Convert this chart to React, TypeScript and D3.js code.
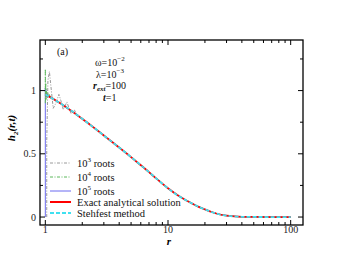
import React from "react";
import * as d3 from "d3";

const rExact = [1, 1.2, 1.5, 2, 2.5, 3, 4, 5, 6, 7, 8, 10, 12, 14, 16, 18, 20, 23, 26, 30, 35, 40, 50, 70, 100];
const hExact = [0.97, 0.925, 0.865, 0.777, 0.705, 0.645, 0.55, 0.474, 0.41, 0.355, 0.306, 0.227, 0.172, 0.133, 0.103, 0.078, 0.06, 0.038, 0.022, 0.011, 0.005, 0.002, 0.0005, 0, 0];

const r1e3 = [1.027, 1.027, 1.05, 1.08, 1.12, 1.16, 1.22, 1.29, 1.34, 1.4, 1.45, 1.5, 1.56, 1.62, 1.68, 1.73, 1.8, 1.9, 2.0];
const h1e3 = [0, 0.6, 1.08, 1.15, 1.0, 0.86, 0.9, 0.97, 0.92, 0.85, 0.88, 0.91, 0.86, 0.82, 0.84, 0.845, 0.81, 0.795, 0.777];

const r1e4 = [1.0, 1.0, 1.004, 1.008, 1.014, 1.02, 1.03, 1.045, 1.06, 1.08, 1.1, 1.14, 1.2];
const h1e4 = [0.9, 1.17, 0.92, 1.06, 0.93, 1.01, 0.94, 0.99, 0.95, 0.97, 0.945, 0.94, 0.925];

const r1e5 = [1.0, 1.0, 1.006, 1.012, 1.02, 1.035, 1.06, 1.1, 1.2];
const h1e5 = [0, 1.02, 0.95, 1.0, 0.96, 0.975, 0.955, 0.945, 0.925];

const xMajor = [1, 10, 100];
const xMinor = [2, 3, 4, 5, 6, 7, 8, 9, 20, 30, 40, 50, 60, 70, 80, 90];
const yMajor = [0, 0.5, 1];
const yMinor = [0.25, 0.75, 1.25];

const L = 40, R = 303, T = 40, B = 225;
const x = d3.scaleLog().domain([0.905, 126]).range([L, R]);
const y = d3.scaleLinear().domain([-0.063, 1.4]).range([B, T]);

function pts(rs: number[], hs: number[]): [number, number][] {
  return rs.map((r, i) => [x(r), y(hs[i])]);
}

export default function App() {
  const smooth = d3.line().curve(d3.curveMonotoneX);
  const lin = d3.line().curve(d3.curveLinear);
  const exactPts = pts(rExact, hExact);
  const exactPath = smooth(exactPts) as string;
  const tail = (startR: number) => exactPts.filter((_, i) => rExact[i] > startR);
  const p3 = lin([...pts(r1e3, h1e3), ...tail(2.0)]) as string;
  const p4 = lin([...pts(r1e4, h1e4), ...tail(1.2)]) as string;
  const p5 = lin([...pts(r1e5, h1e5), ...tail(1.2)]) as string;
  const font = "'Liberation Serif', 'DejaVu Serif', serif";
  const legend = [
    { label: "10", sup: "3", rest: " roots", color: "#9a9a9a", dash: "3,1.5,1,1.5", w: 1, y: 163 },
    { label: "10", sup: "4", rest: " roots", color: "#5cb85c", dash: "3,1.5,1,1.5", w: 1, y: 177 },
    { label: "10", sup: "5", rest: " roots", color: "#6b6bf0", dash: "", w: 1, y: 191 },
    { label: "Exact analytical solution", sup: "", rest: "", color: "#ff0000", dash: "", w: 2, y: 202 },
    { label: "Stehfest method", sup: "", rest: "", color: "#3fe0f0", dash: "4,2", w: 2, y: 213 },
  ];
  return (
    <svg width={341} height={263} style={{ position: "absolute", left: 0, top: 0 }} fontFamily={font}>
      <rect x={0} y={0} width={341} height={263} fill="#fff" />
      <defs>
        <clipPath id="pc"><rect x={L} y={T} width={R - L} height={B - T} /></clipPath>
      </defs>
      <g clipPath="url(#pc)" fill="none">
        <path d={p5} stroke="#6b6bf0" strokeWidth={1} />
        <path d={p4} stroke="#5cb85c" strokeWidth={1} strokeDasharray="3,1.5,1,1.5" />
        <path d={p3} stroke="#9a9a9a" strokeWidth={1} strokeDasharray="3,1.5,1,1.5" />
        <path d={exactPath} stroke="#ff0000" strokeWidth={1.8} />
        <path d={exactPath} stroke="#3fe0f0" strokeWidth={1.8} strokeDasharray="4,2" />
      </g>
      <g stroke="#000" strokeWidth={1}>
        {xMajor.map((v) => (
          <g key={"xm" + v}>
            <line x1={x(v)} x2={x(v)} y1={B} y2={B - 5} />
            <line x1={x(v)} x2={x(v)} y1={T} y2={T + 5} />
          </g>
        ))}
        {xMinor.map((v) => (
          <g key={"xn" + v}>
            <line x1={x(v)} x2={x(v)} y1={B} y2={B - 3} />
            <line x1={x(v)} x2={x(v)} y1={T} y2={T + 3} />
          </g>
        ))}
        {yMajor.map((v) => (
          <g key={"ym" + v}>
            <line x1={L} x2={L + 5} y1={y(v)} y2={y(v)} />
            <line x1={R} x2={R - 5} y1={y(v)} y2={y(v)} />
          </g>
        ))}
        {yMinor.map((v) => (
          <g key={"yn" + v}>
            <line x1={L} x2={L + 3} y1={y(v)} y2={y(v)} />
            <line x1={R} x2={R - 3} y1={y(v)} y2={y(v)} />
          </g>
        ))}
      </g>
      <rect x={L} y={T} width={R - L} height={B - T} fill="none" stroke="#000" strokeWidth={1.3} />
      <g fontSize={10} fill="#222">
        {xMajor.map((v) => (
          <text key={"xl" + v} x={x(v)} y={233} textAnchor="middle">{v}</text>
        ))}
        {yMajor.map((v) => (
          <text key={"yl" + v} x={36} y={y(v) + 3.5} textAnchor="end">{v}</text>
        ))}
      </g>
      <text x={169} y={245} fontSize={11} fontStyle="italic" fontWeight="bold" textAnchor="middle">r</text>
      <text transform="translate(15,128) rotate(-90)" fontSize={11} fontStyle="italic" fontWeight="bold" textAnchor="middle">
        h<tspan fontSize={7} dy={3}>2</tspan><tspan dy={-3}>(r,t)</tspan>
      </text>
      <g fontSize={10} fill="#111">
        <text x={57} y={55}>(a)</text>
        <text x={95} y={66}>ω=10<tspan fontSize={7} dy={-5}>−2</tspan></text>
        <text x={96} y={78}>λ=10<tspan fontSize={7} dy={-5}>−3</tspan></text>
        <text x={93} y={89}><tspan fontStyle="italic" fontWeight="bold">r</tspan><tspan fontSize={7} dy={2} fontStyle="italic" fontWeight="bold">ext</tspan><tspan dy={-2}>=100</tspan></text>
        <text x={103} y={101}><tspan fontStyle="italic" fontWeight="bold">t</tspan>=1</text>
      </g>
      <g fontSize={10.5} fill="#111">
        {legend.map((d, i) => (
          <g key={"lg" + i}>
            <line x1={50} x2={71} y1={d.y} y2={d.y} stroke={d.color} strokeWidth={d.w} strokeDasharray={d.dash} />
            <text x={77} y={d.y + 3.5}>
              {d.label}
              {d.sup ? <tspan fontSize={7} dy={-5}>{d.sup}</tspan> : null}
              {d.rest ? <tspan dy={d.sup ? 5 : 0}>{d.rest}</tspan> : null}
            </text>
          </g>
        ))}
      </g>
    </svg>
  );
}
